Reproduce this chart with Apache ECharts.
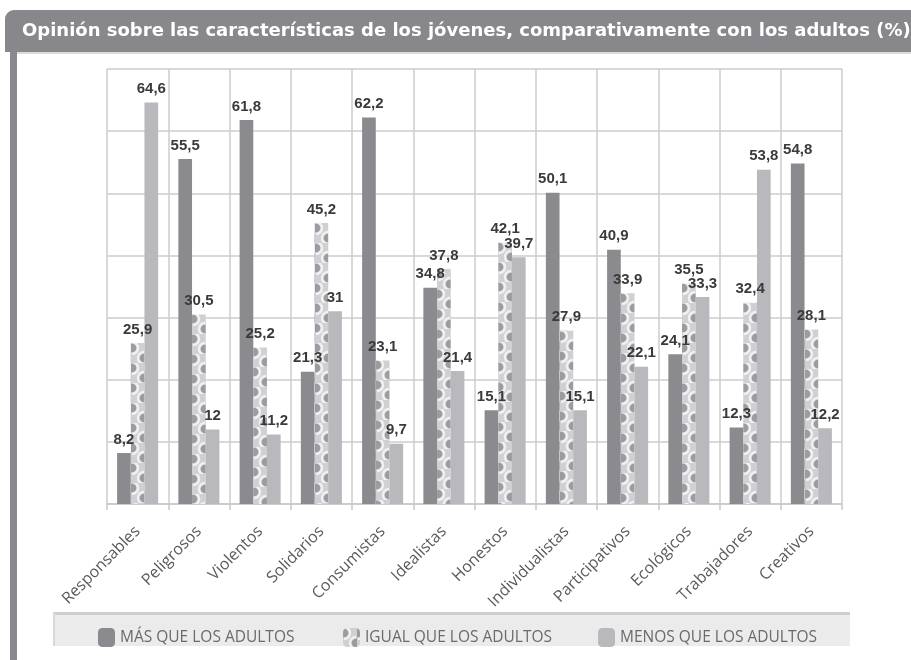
<!DOCTYPE html>
<html>
<head>
<meta charset="utf-8">
<script src="https://cdn.jsdelivr.net/npm/echarts@6/dist/echarts.min.js"></script>
<style>
html,body{margin:0;padding:0;background:#fff;}
#c{width:911px;height:660px;}
</style>
</head>
<body>
<div id="c"></div>
<script>
const titleText = 'Opinión sobre las características de los jóvenes, comparativamente con los adultos (%)';
const categories = ['Responsables','Peligrosos','Violentos','Solidarios','Consumistas','Idealistas','Honestos','Individualistas','Participativos','Ecológicos','Trabajadores','Creativos'];
const seriesNames = ['MÁS QUE LOS ADULTOS','IGUAL QUE LOS ADULTOS','MENOS QUE LOS ADULTOS'];
const masValues = [8.2, 55.5, 61.8, 21.3, 62.2, 34.8, 15.1, 50.1, 40.9, 24.1, 12.3, 54.8];
const igualValues = [25.9, 30.5, 25.2, 45.2, 23.1, 37.8, 42.1, 27.9, 33.9, 35.5, 32.4, 28.1];
const menosValues = [64.6, 12, 11.2, 31, 9.7, 21.4, 39.7, 15.1, 22.1, 33.3, 53.8, 12.2];

function makePattern(){
  const cv = document.createElement('canvas');
  cv.width = 14; cv.height = 20;
  const g = cv.getContext('2d');
  g.fillStyle = '#d0d0d4'; g.fillRect(0,0,14,20);
  g.strokeStyle = '#f0f0f1'; g.lineWidth = 2.5;
  g.beginPath();
  g.arc(1,5,6,-Math.PI/2,Math.PI/2); g.stroke();
  g.beginPath();
  g.arc(13,15,6,Math.PI/2,Math.PI*1.5); g.stroke();
  g.fillStyle = '#9c9ca0';
  g.beginPath(); g.arc(1,5,4.3,0,Math.PI*2); g.fill();
  g.beginPath(); g.arc(13,15,4.3,0,Math.PI*2); g.fill();
  g.beginPath(); g.arc(13,-5,4.3,0,Math.PI*2); g.fill();
  return cv;
}
const patCanvas = makePattern();

const fmt = p => String(p.value).replace('.', ',');
const labelStyle = {show:true, position:'top', distance:6, formatter:fmt, color:'#3a3a3a', fontFamily:'Liberation Sans', fontWeight:'bold', fontSize:15};

const chart = echarts.init(document.getElementById('c'), null, {renderer:'canvas'});
const legendBase = {top:623, itemWidth:17, itemHeight:19, itemGap:0, textStyle:{fontFamily:'Open Sans', fontSize:15.5, color:'#6a6a6a'}};
const option = {
  animation:false,
  backgroundColor:'#ffffff',
  graphic:[
    {type:'rect', shape:{x:5,y:10,width:930,height:42,r:[9,0,0,0]}, style:{fill:'#88888c'}, z:0},
    {type:'rect', shape:{x:10,y:50,width:7,height:620}, style:{fill:'#8a8a8e'}, z:0},
    {type:'rect', shape:{x:17,y:52,width:900,height:2}, style:{fill:'#dcdcdc'}, z:0},
    {type:'text', x:22, y:31, style:{text:titleText, fill:'#ffffff', font:'bold 18px "DejaVu Sans"', textVerticalAlign:'middle'}, z:1},
    {type:'rect', shape:{x:53,y:613,width:797,height:33}, style:{fill:'#ebebeb'}, z:0},
    {type:'rect', shape:{x:53,y:612,width:797,height:3}, style:{fill:'#cfcfcf'}, z:0},
    {type:'rect', shape:{x:53,y:612,width:2,height:34}, style:{fill:'#d8d8d8'}, z:0}
  ],
  legend:[
    Object.assign({left:93, data:[seriesNames[0]]}, legendBase),
    Object.assign({left:338, data:[seriesNames[1]]}, legendBase),
    Object.assign({left:593, data:[seriesNames[2]]}, legendBase)
  ],
  grid:{left:107, right:69, top:69, bottom:156, containLabel:false},
  xAxis:{
    type:'category', data:categories,
    axisLine:{show:true, lineStyle:{color:'#c8c8c8', width:1.5}},
    axisTick:{show:true, length:6, lineStyle:{color:'#c8c8c8', width:1.5}},
    splitLine:{show:true, lineStyle:{color:'#cdcdcd', width:1.5}},
    axisLabel:{rotate:45, margin:25, color:'#5a5a5a', fontFamily:'Open Sans', fontSize:16, interval:0}
  },
  yAxis:{
    type:'value', min:0, max:70, interval:10,
    axisLabel:{show:false}, axisLine:{show:false}, axisTick:{show:false},
    splitLine:{show:true, lineStyle:{color:'#cdcdcd', width:1.5}}
  },
  series:[
    {name:seriesNames[0], type:'bar', data:masValues, barGap:'0%', barCategoryGap:'33%', itemStyle:{color:'#8b8b8f'}, label:labelStyle},
    {name:seriesNames[1], type:'bar', data:igualValues, itemStyle:{color:{image:patCanvas, repeat:'repeat'}}, label:labelStyle},
    {name:seriesNames[2], type:'bar', data:menosValues, itemStyle:{color:'#b9b9bd'}, label:labelStyle}
  ]
};
chart.setOption(option);
try {
  const d = chart.getModel().getSeriesByIndex(1).getData();
  const items = igualValues.map((v,i)=>{
    const l = d.getItemLayout(i);
    return {value:v, itemStyle:{color:{image:patCanvas, repeat:'repeat', x:Math.round(l.x), y:Math.round(l.y + l.height)}}};
  });
  chart.setOption({series:[{},{data:items},{}]});
} catch(e) {}
</script>
</body>
</html>
